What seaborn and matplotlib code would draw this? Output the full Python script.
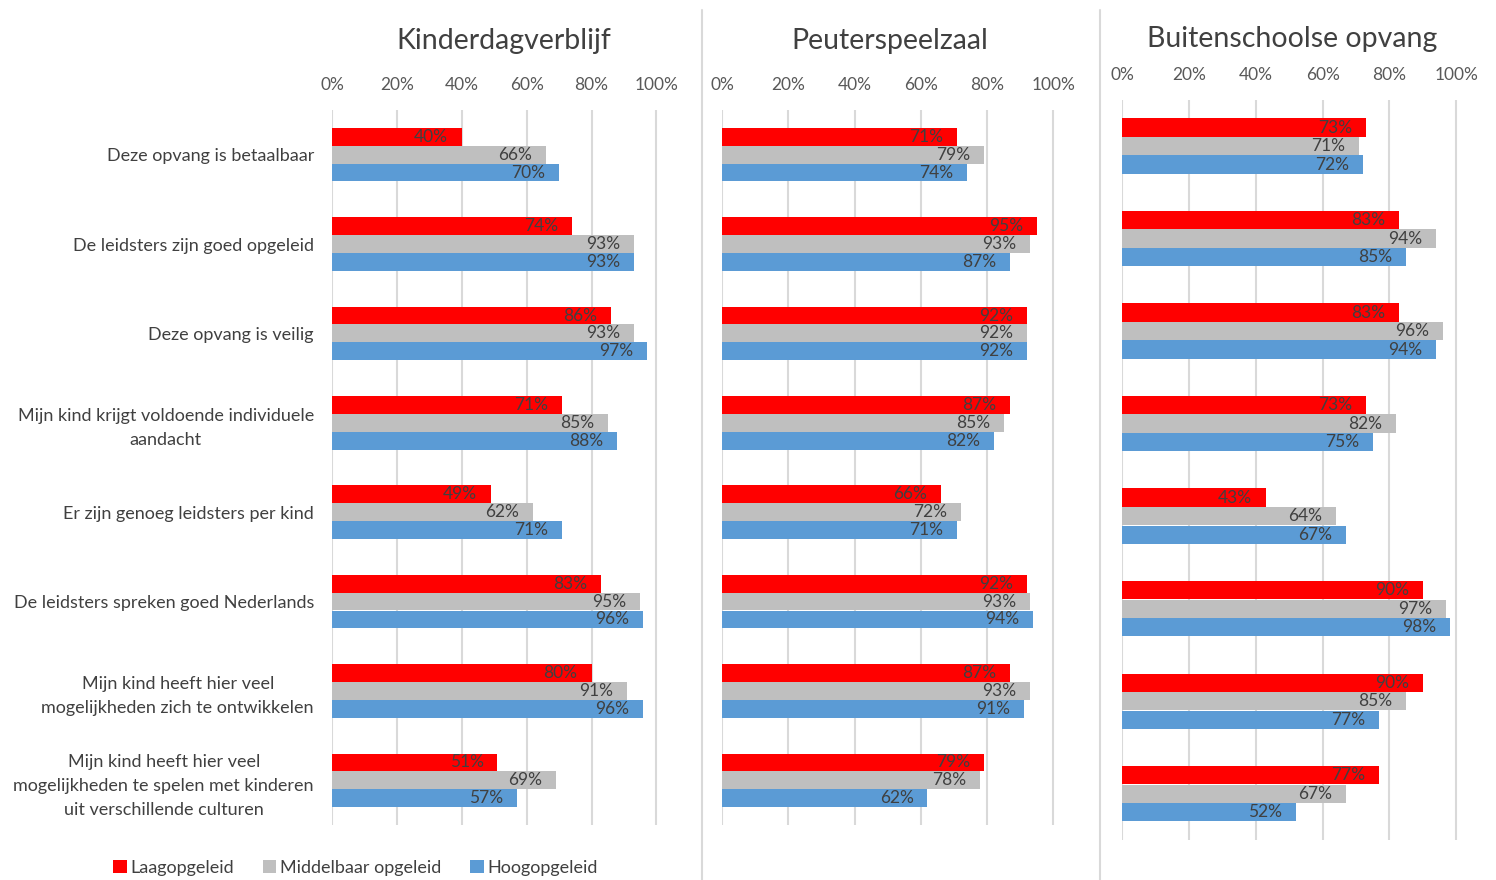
import seaborn as sns
import pandas as pd
import matplotlib.pyplot as plt
from matplotlib.patches import Patch
from matplotlib.lines import Line2D

statements = [
    'Deze opvang is betaalbaar',
    'De leidsters zijn goed opgeleid',
    'Deze opvang is veilig',
    'Mijn kind krijgt voldoende individuele\naandacht',
    'Er zijn genoeg leidsters per kind',
    'De leidsters spreken goed Nederlands',
    'Mijn kind heeft hier veel\nmogelijkheden zich te ontwikkelen',
    'Mijn kind heeft hier veel\nmogelijkheden te spelen met kinderen\nuit verschillende culturen',
]
levels = ['Laagopgeleid', 'Middelbaar opgeleid', 'Hoogopgeleid']
panels = ['Kinderdagverblijf', 'Peuterspeelzaal', 'Buitenschoolse opvang']

kdv_laag = [40, 74, 86, 71, 49, 83, 80, 51]
kdv_middel = [66, 93, 93, 85, 62, 95, 91, 69]
kdv_hoog = [70, 93, 97, 88, 71, 96, 96, 57]

psz_laag = [71, 95, 92, 87, 66, 92, 87, 79]
psz_middel = [79, 93, 92, 85, 72, 93, 93, 78]
psz_hoog = [74, 87, 92, 82, 71, 94, 91, 62]

bso_laag = [73, 83, 83, 73, 43, 90, 90, 77]
bso_middel = [71, 94, 96, 82, 64, 97, 85, 67]
bso_hoog = [72, 85, 94, 75, 67, 98, 77, 52]

panel_values = {
    'Kinderdagverblijf': [kdv_laag, kdv_middel, kdv_hoog],
    'Peuterspeelzaal': [psz_laag, psz_middel, psz_hoog],
    'Buitenschoolse opvang': [bso_laag, bso_middel, bso_hoog],
}

colors = ['#FF0000', '#BFBFBF', '#5B9BD5']
grid_color = '#D9D9D9'
text_color = '#404040'


def panel_df(name):
    rows = [
        {'stelling': s, 'niveau': lvl, 'pct': vals[i]}
        for lvl, vals in zip(levels, panel_values[name])
        for i, s in enumerate(statements)
    ]
    return pd.DataFrame(rows)


sns.set_style('white')
plt.rcParams['font.family'] = ['Lato', 'DejaVu Sans']

fig = plt.figure(figsize=(14.96, 8.8), dpi=100)

# axes rectangles in pixels: (left, top, right, bottom) of the 0-100% plot area
W, H = 1496, 880
rects = [(332, 110, 658, 825), (722, 110, 1055, 825), (1122, 100, 1458, 840)]
title_xy = [(504, 41), (890, 41), (1292, 39)]

for idx, (name, (l, t, r, b)) in enumerate(zip(panels, rects)):
    ax = fig.add_axes([l / W, 1 - b / H, (r - l) / W, (b - t) / H])
    df = panel_df(name)
    sns.barplot(data=df, y='stelling', x='pct', hue='niveau', orient='h',
                palette=colors, saturation=1, width=0.6, ax=ax, legend=False,
                linewidth=0)
    ax.set_xlim(0, 100.5)
    ax.set_xticks(range(0, 101, 20))
    ax.set_xticklabels([f'{v}%' for v in range(0, 101, 20)],
                       fontsize=12.5, color='#595959')
    ax.xaxis.tick_top()
    ax.tick_params(axis='x', length=0, pad=12)
    ax.tick_params(axis='y', length=0, pad=13)
    ax.grid(axis='x', color=grid_color, linewidth=1.5)
    ax.set_axisbelow(True)
    for sp in ax.spines.values():
        sp.set_visible(False)
    ax.set_xlabel('')
    ax.set_ylabel('')
    if idx == 0:
        for lab in ax.get_yticklabels():
            lab.set_fontsize(13)
            lab.set_color(text_color)
            lab.set_multialignment('center')
            lab.set_linespacing(1.6)
    else:
        ax.set_yticklabels([])

    for cont, vals in zip(ax.containers, panel_values[name]):
        texts = ax.bar_label(cont, labels=[f'{v}%' for v in vals],
                             padding=-10, fontsize=12.5, color=text_color)
        for tx in texts:
            tx.set_ha('right')

    tx_, ty_ = title_xy[idx]
    fig.text(tx_ / W, 1 - ty_ / H, name,
             ha='center', va='center', fontsize=20.5, color='#404040')

# separators between the panels
for x in (702, 1100):
    fig.add_artist(Line2D([x / W, x / W], [1 - 10 / H, 0], color=grid_color,
                          linewidth=1.5))

handles = [Patch(facecolor=c, edgecolor='none') for c in colors]
fig.legend(handles, levels, loc='center left', bbox_to_anchor=(97 / W, 1 - 868 / H),
           ncol=3, frameon=False, fontsize=13, handlelength=0.75,
           handleheight=0.75, handletextpad=0.2, columnspacing=1.6,
           labelcolor=text_color)

fig.savefig('out.png', dpi=100)
